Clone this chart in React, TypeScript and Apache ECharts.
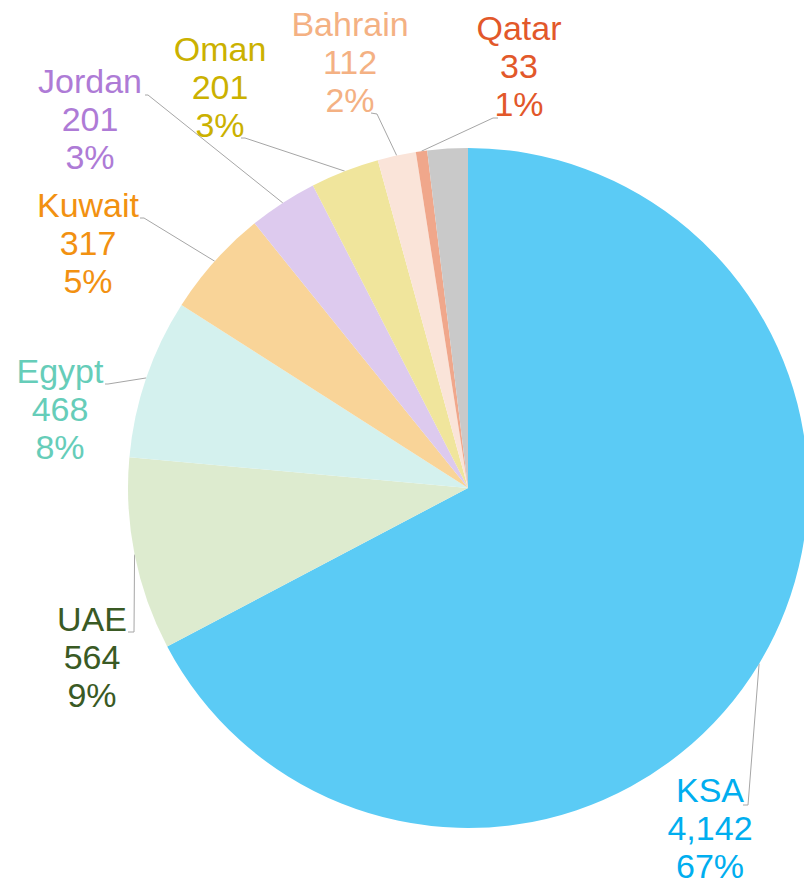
import React, { useEffect, useRef } from "react";
import * as echarts from "echarts";

// ---- data ----
const categories = ["KSA", "UAE", "Egypt", "Kuwait", "Jordan", "Oman", "Bahrain", "Qatar", "Other"];
const values = [4142, 564, 468, 317, 201, 201, 112, 33, 118];
const labelVisible = [true, true, true, true, true, true, true, true, false];

// ---- styles ----
const sliceColors = ["#5BCBF5", "#DDEBCF", "#D4F1EE", "#F9D498", "#DDCAEE", "#F0E59C", "#FAE4D9", "#F0A78B", "#C9C9C9"];
const labelColors = ["#00AEEF", "#3A5A24", "#66CDB9", "#F29111", "#AE7BD6", "#CBB100", "#F4B183", "#E2582A", "#999999"];

// ---- label layout (block top-centre, leader bend and end) ----
const labelBoxes: { x: number; y: number; bend: number[]; end: number[] }[] = [
  { x: 710, y: 771, bend: [748, 805], end: [743, 805] },
  { x: 92, y: 600, bend: [134, 632], end: [128, 632] },
  { x: 60, y: 352, bend: [108, 384], end: [105, 384] },
  { x: 88, y: 186, bend: [144, 218], end: [140, 218] },
  { x: 90, y: 62, bend: [148, 95], end: [145, 95] },
  { x: 220, y: 30, bend: [245, 138], end: [241, 138] },
  { x: 350, y: 5, bend: [377, 114], end: [371, 113] },
  { x: 519, y: 9, bend: [493, 118], end: [498, 118] },
];

const CENTER = [468, 488];
const RADIUS = 340;

export default function App() {
  const ref = useRef<HTMLDivElement>(null);
  useEffect(() => {
    if (!ref.current) return;
    const chart = echarts.init(ref.current, null, { renderer: "svg" });
    const total = values.reduce((a, b) => a + b, 0);
    const data = categories.map((name, i) => ({
      name,
      value: values[i],
      itemStyle: { color: sliceColors[i] },
      label: { show: labelVisible[i], color: labelColors[i] },
      labelLine: { show: labelVisible[i] },
    }));
    chart.setOption({
      animation: false,
      backgroundColor: "#ffffff",
      series: [
        {
          type: "pie",
          center: CENTER,
          radius: RADIUS,
          startAngle: 90,
          clockwise: true,
          avoidLabelOverlap: false,
          data,
          itemStyle: { borderWidth: 0 },
          emphasis: { disabled: true },
          label: {
            show: true,
            position: "outside",
            fontFamily: "Liberation Sans",
            fontSize: 34,
            lineHeight: 38,
            align: "center",
            formatter: (p: any) => {
              const v = values[p.dataIndex];
              const pct = Math.round((v / total) * 100);
              return `${p.name}\n${v.toLocaleString("en-US")}\n${pct}%`;
            },
          },
          labelLine: {
            show: true,
            length: 20,
            length2: 10,
            lineStyle: { color: "#A6A6A6", width: 1 },
          },
          labelLayout: (params: any) => {
            const box = labelBoxes[params.dataIndex];
            if (!box) return {};
            let start = params.labelLinePoints && params.labelLinePoints[0];
            if (!start) {
              let cum = 0;
              for (let k = 0; k < params.dataIndex; k++) cum += values[k];
              const mid = ((cum + values[params.dataIndex] / 2) / total) * Math.PI * 2;
              start = [CENTER[0] + RADIUS * Math.sin(mid), CENTER[1] - RADIUS * Math.cos(mid)];
            }
            return {
              x: box.x,
              y: box.y,
              align: "center",
              verticalAlign: "top",
              labelLinePoints: [start, box.bend, box.end],
            };
          },
        },
      ],
    });
    return () => chart.dispose();
  }, []);
  return (
    <div
      ref={ref}
      style={{ position: "absolute", left: 0, top: 0, width: 804, height: 885 }}
    />
  );
}
